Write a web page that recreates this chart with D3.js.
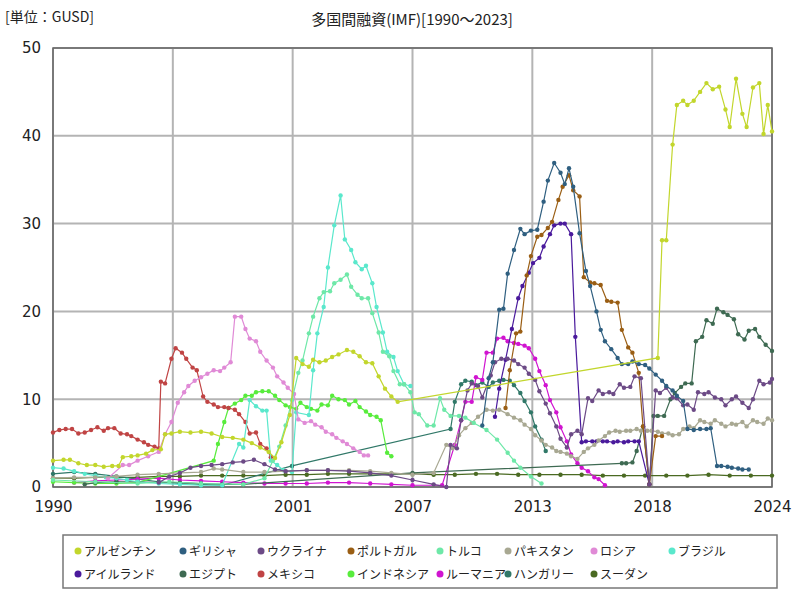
<!DOCTYPE html>
<html><head><meta charset="utf-8">
<script src="https://cdn.jsdelivr.net/npm/d3@7"></script>
<style>body{margin:0;background:#fff;font-family:"Noto Sans CJK JP","DejaVu Sans",sans-serif}</style>
</head><body><svg id="c" width="800" height="600"></svg>
<script>
const names=["アルゼンチン","ギリシャ","ウクライナ","ポルトガル","トルコ","パキスタン","ロシア","ブラジル","アイルランド","エジプト","メキシコ","インドネシア","ルーマニア","ハンガリー","スーダン"];
const colors=["#c2d62c","#2f5f80","#6c4a86","#9a5e14","#6ee8a8","#a8a892","#e08ad6","#5ae8cc","#4a1a9c","#3e6a52","#c04444","#58ec3c","#d014d0","#307868","#4a6a22"];
const xTickLabels=["1990","1996","2001","2007","2013","2018","2024"];
const yTicks=[0,10,20,30,40,50];
const argentina=[[1990,3.0],[1990.5,3.1],[1990.8,3.1],[1991.2,2.7],[1991.6,2.5],[1992,2.5],[1992.4,2.3],[1992.8,2.4],[1993.1,2.4],[1993.3,3.4],[1993.7,3.5],[1994,3.6],[1994.4,3.8],[1994.7,4.2],[1995.1,4.3],[1995.3,6.0],[1995.6,6.1],[1996,6.3],[1996.5,6.2],[1997,6.3],[1997.5,6.1],[1998,5.7],[1998.5,5.6],[1999,5.4],[1999.4,5.0],[1999.8,4.5],[2000.2,4.0],[2000.5,3.3],[2000.8,5.1],[2001.2,8.2],[2001.5,14.7],[2001.8,14.0],[2002.1,13.7],[2002.3,14.5],[2002.6,14.2],[2002.9,14.4],[2003.2,14.8],[2003.5,15.1],[2003.9,15.6],[2004.2,15.4],[2004.5,14.9],[2004.8,14.2],[2005.1,14.1],[2005.4,12.6],[2005.7,11.2],[2006.0,10.3],[2006.3,9.7],[2018.6,14.7],[2018.8,28.1],[2019.0,28.1],[2019.3,39.0],[2019.5,43.5],[2019.8,44.0],[2020.0,43.5],[2020.3,44.0],[2020.6,45.0],[2020.9,46.0],[2021.2,45.3],[2021.5,45.6],[2021.8,43.0],[2022.0,41.0],[2022.3,46.5],[2022.6,42.5],[2022.8,41.0],[2023.1,45.5],[2023.4,46.0],[2023.6,40.2],[2023.8,43.5],[2024,40.5]];
const greece=[[2010.3,7.0],[2010.6,12.4],[2010.8,14.2],[2011.1,20.2],[2011.3,20.3],[2011.5,24.3],[2011.8,27.0],[2012.1,29.4],[2012.3,28.8],[2012.6,29.2],[2012.9,29.3],[2013.2,32.5],[2013.4,34.9],[2013.7,36.9],[2014.0,35.8],[2014.2,34.5],[2014.4,36.3],[2014.6,34.2],[2014.9,28.9],[2015.2,24.6],[2015.4,22.9],[2015.7,20.0],[2015.9,17.9],[2016.1,16.6],[2016.4,15.7],[2016.7,14.7],[2016.9,14.0],[2017.2,14.0],[2017.4,14.3],[2017.7,14.0],[2018.0,13.9],[2018.2,13.5],[2018.5,12.8],[2018.8,12.1],[2019.0,11.5],[2019.3,11.0],[2019.5,10.4],[2019.8,9.8],[2020.0,6.6],[2020.3,6.5],[2020.6,6.6],[2020.9,6.6],[2021.1,6.7],[2021.4,2.4],[2021.6,2.4],[2021.9,2.3],[2022.1,2.2],[2022.4,2.1],[2022.6,2.0],[2022.9,2.0]];
const ukraine=[[1995,0.5],[1995.5,1.2],[1996,1.6],[1996.5,2.2],[1997,2.4],[1997.5,2.5],[1998,2.6],[1998.5,2.8],[1999,2.9],[1999.5,3.1],[2000,2.6],[2000.5,2.0],[2001,1.8],[2002,1.9],[2003,1.9],[2004,1.8],[2005,1.6],[2006,1.3],[2007,0.8],[2008,0.3],[2008.6,0.0],[2008.8,4.8],[2009.1,4.4],[2009.3,7.6],[2009.6,11.0],[2009.8,11.8],[2010.1,11.5],[2010.3,10.2],[2010.7,12.7],[2010.9,14.2],[2011.2,14.6],[2011.5,14.6],[2011.8,14.4],[2012.0,14.0],[2012.3,13.6],[2012.5,12.9],[2012.8,12.2],[2013.0,10.9],[2013.3,9.5],[2013.5,8.4],[2013.8,6.9],[2014.0,5.5],[2014.3,4.5],[2014.5,6.0],[2014.8,6.4],[2015.0,6.0],[2015.3,10.1],[2015.5,9.8],[2015.8,11.0],[2016.0,10.6],[2016.3,10.8],[2016.5,10.6],[2016.8,11.7],[2017.0,11.3],[2017.3,11.4],[2017.5,12.6],[2017.8,12.4],[2018.2,0.3],[2018.5,11.0],[2018.7,10.7],[2019.0,11.3],[2019.3,10.2],[2019.5,10.1],[2019.8,9.3],[2020.0,9.4],[2020.3,8.8],[2020.5,10.8],[2020.8,10.6],[2021.0,10.8],[2021.3,10.2],[2021.6,10.0],[2021.8,9.3],[2022.1,10.0],[2022.3,10.3],[2022.6,9.6],[2022.9,9.0],[2023.1,10.0],[2023.4,12.1],[2023.6,11.7],[2023.9,11.9],[2024,12.3]];
const portugal=[[2011.4,9.0],[2011.6,13.3],[2011.9,17.5],[2012.1,17.7],[2012.4,24.1],[2012.6,26.3],[2012.9,28.5],[2013.1,28.7],[2013.4,29.5],[2013.6,30.2],[2013.9,32.7],[2014.1,34.2],[2014.4,35.5],[2014.6,33.8],[2014.9,33.1],[2015.1,23.9],[2015.4,23.3],[2015.6,23.2],[2015.9,23.0],[2016.2,21.2],[2016.4,21.1],[2016.7,21.0],[2016.9,17.9],[2017.2,15.9],[2017.4,15.3],[2017.7,13.0],[2017.9,6.9],[2018.2,0.3],[2018.5,5.8],[2018.8,5.8]];
const turkey=[[1990,0.8],[1992,0.6],[1994,0.4],[1995.5,0.6],[1997,0.4],[1999,0.3],[2000,1.0],[2000.4,3.0],[2000.7,4.6],[2001.0,7.0],[2001.3,9.9],[2001.6,13.0],[2001.8,14.4],[2002.1,17.5],[2002.3,19.4],[2002.6,21.5],[2002.8,22.2],[2003.1,22.3],[2003.3,23.2],[2003.6,23.6],[2003.9,24.2],[2004.1,22.8],[2004.4,21.9],[2004.6,21.5],[2004.9,21.5],[2005.1,19.8],[2005.4,17.6],[2005.6,15.4],[2005.9,14.9],[2006.1,13.2],[2006.4,11.7],[2006.6,11.7],[2006.9,10.8],[2007.1,8.5],[2007.3,8.3],[2007.7,7.0],[2008.0,7.0],[2008.3,10.1],[2008.5,8.8],[2008.8,8.1],[2009.2,8.1],[2009.5,7.9],[2009.9,7.3],[2010.5,6.5],[2011.0,5.4],[2011.5,3.9],[2011.8,3.0],[2012.1,2.2],[2012.6,1.2],[2013.1,0.4]];
const pakistan=[[1990,1.0],[1991,1.1],[1992,1.1],[1993,1.2],[1994,1.4],[1995,1.5],[1996,1.6],[1997,1.7],[1997.6,2.1],[1998,2.0],[1999,1.7],[2000,1.7],[2001,1.8],[2002,1.9],[2003,1.9],[2004,1.9],[2005,1.8],[2006,1.6],[2007,1.4],[2008,1.6],[2008.6,4.8],[2008.9,4.4],[2009.2,5.9],[2009.5,6.7],[2009.8,7.3],[2010.1,8.0],[2010.5,8.8],[2010.8,8.7],[2011.1,8.8],[2011.5,8.3],[2011.8,7.9],[2012.1,7.6],[2012.3,7.1],[2012.6,6.6],[2012.8,5.9],[2013.1,5.3],[2013.3,4.8],[2013.6,4.5],[2013.8,4.1],[2014.0,4.0],[2014.3,3.8],[2014.5,3.5],[2014.8,3.2],[2015.1,4.0],[2015.3,4.4],[2015.6,4.8],[2015.8,5.3],[2016.1,5.8],[2016.3,6.2],[2016.6,6.4],[2016.8,6.3],[2017.1,6.4],[2017.3,6.4],[2017.6,6.6],[2017.8,6.4],[2018.1,6.4],[2018.3,6.4],[2018.6,6.3],[2018.8,6.1],[2019.1,6.1],[2019.3,5.9],[2019.6,6.0],[2019.8,6.6],[2020.1,6.9],[2020.3,6.7],[2020.6,7.6],[2020.8,7.4],[2021.1,7.2],[2021.3,7.6],[2021.6,7.2],[2021.8,6.9],[2022.1,7.2],[2022.3,7.1],[2022.6,7.4],[2022.8,6.9],[2023.1,7.6],[2023.3,7.4],[2023.6,7.2],[2023.8,7.8],[2024,7.6]];
const russia=[[1992.6,1.0],[1993.3,2.5],[1993.6,2.5],[1994.0,3.0],[1994.5,3.5],[1995.0,4.0],[1995.3,6.0],[1995.6,7.4],[1995.9,9.6],[1996.2,10.8],[1996.4,11.5],[1996.7,12.1],[1997.0,12.5],[1997.3,12.9],[1997.6,13.3],[1997.9,13.2],[1998.1,13.6],[1998.4,14.2],[1998.6,19.4],[1998.9,19.4],[1999.1,18.0],[1999.3,16.9],[1999.6,16.6],[1999.8,15.4],[2000.1,14.4],[2000.4,13.6],[2000.6,12.6],[2000.9,11.9],[2001.1,11.3],[2001.4,10.6],[2001.6,7.7],[2001.9,7.3],[2002.2,7.5],[2002.4,7.1],[2002.7,6.8],[2002.9,6.3],[2003.2,6.0],[2003.4,5.6],[2003.7,5.2],[2003.9,4.9],[2004.2,4.4],[2004.5,4.0],[2004.7,3.6],[2004.9,3.6]];
const brazil=[[1990,2.2],[1990.5,2.1],[1991,1.8],[1991.5,1.5],[1992,1.3],[1992.5,1.1],[1993,1.0],[1993.5,0.8],[1994,0.6],[1995,0.4],[1996,0.3],[1997,0.2],[1998,0.2],[1998.8,4.9],[1999.0,4.5],[1999.3,9.9],[1999.6,9.2],[1999.9,8.7],[2000.1,8.7],[2000.3,3.0],[2000.6,2.5],[2000.9,1.9],[2001.3,1.7],[2001.5,8.5],[2002.1,8.2],[2002.3,13.3],[2002.5,17.5],[2002.8,20.5],[2003.0,25.0],[2003.3,29.8],[2003.6,33.2],[2003.8,28.2],[2004.1,27.0],[2004.3,25.6],[2004.6,24.8],[2004.8,25.2],[2005.1,23.2],[2005.3,20.5],[2005.6,17.6],[2005.8,15.4],[2006.1,14.8],[2006.3,13.2],[2006.6,11.7],[2006.9,11.5]];
const ireland=[[2010.9,8.0],[2011.1,11.2],[2011.4,14.5],[2011.7,18.0],[2012.0,21.5],[2012.2,22.9],[2012.5,24.4],[2012.7,25.5],[2013.0,26.1],[2013.2,27.4],[2013.5,28.8],[2013.7,29.8],[2014.0,30.0],[2014.2,30.0],[2014.5,28.8],[2014.7,17.1],[2015.0,5.1],[2015.2,5.2],[2015.5,5.2],[2015.7,5.2],[2016.0,5.2],[2016.2,5.2],[2016.5,5.1],[2016.7,5.2],[2017.0,5.1],[2017.2,5.2],[2017.5,5.2],[2017.7,5.2],[2018.2,0.3]];
const egypt=[[1991.5,0.3],[1992,0.5],[1993,0.6],[1994,0.6],[1995,0.5],[1996,0.5],[1997,0.4],[1998,0.3],[1999,0.3],[2007,1.6],[2016.9,2.7],[2017.1,2.7],[2017.4,2.8],[2017.6,4.1],[2017.9,6.9],[2018.2,0.3],[2018.4,8.1],[2018.6,8.1],[2018.9,8.1],[2019.2,10.0],[2019.4,10.7],[2019.7,11.4],[2019.9,11.8],[2020.2,11.8],[2020.4,16.6],[2020.7,17.1],[2020.9,19.0],[2021.2,18.6],[2021.4,20.3],[2021.7,19.9],[2021.9,19.6],[2022.2,19.1],[2022.4,17.4],[2022.7,16.8],[2022.9,17.8],[2023.2,18.0],[2023.4,17.1],[2023.7,16.2],[2024,15.5]];
const mexico=[[1990,6.2],[1990.3,6.5],[1990.6,6.6],[1990.9,6.6],[1991.2,6.1],[1991.5,6.2],[1991.8,6.5],[1992.1,6.8],[1992.4,6.4],[1992.6,6.7],[1992.9,6.7],[1993.2,6.1],[1993.5,6.0],[1993.7,5.8],[1994.0,5.4],[1994.3,5.1],[1994.5,4.8],[1994.8,4.6],[1995.0,4.4],[1995.1,12.0],[1995.3,11.8],[1995.6,14.6],[1995.8,15.8],[1996.1,15.3],[1996.3,14.6],[1996.6,13.6],[1996.8,13.3],[1997.1,10.3],[1997.3,9.7],[1997.6,9.4],[1997.8,9.1],[1998.1,9.1],[1998.3,9.0],[1998.6,8.8],[1998.8,8.3],[1999.1,7.4],[1999.3,6.1],[1999.6,6.2],[1999.8,4.9],[2000.1,4.4],[2000.3,3.4]];
const indonesia=[[1990,0.6],[1991,0.5],[1992,0.4],[1993,0.4],[1994,0.5],[1997.6,3.0],[1997.8,4.9],[1998.1,7.4],[1998.3,9.0],[1998.6,9.5],[1998.9,9.9],[1999.1,10.4],[1999.4,10.4],[1999.6,10.8],[1999.9,10.9],[2000.2,10.9],[2000.5,10.4],[2000.7,9.9],[2001.0,9.3],[2001.2,9.1],[2001.5,8.9],[2001.7,9.6],[2002.0,9.1],[2002.2,8.9],[2002.5,8.7],[2002.7,9.4],[2003.0,9.3],[2003.2,10.4],[2003.5,10.0],[2003.8,9.9],[2004.0,9.4],[2004.3,9.8],[2004.5,9.1],[2004.8,8.6],[2005.0,8.2],[2005.3,8.0],[2005.5,7.6],[2005.8,3.9],[2006.0,3.5]];
const romania=[[1991,0.5],[1992,0.7],[1993,0.8],[1994,0.9],[1995,1.0],[1996,0.8],[1997,0.7],[1998,0.6],[1999,0.5],[2000,0.4],[2001,0.4],[2002,0.4],[2003,0.5],[2004,0.5],[2005,0.4],[2006,0.3],[2007,0.2],[2008.4,0.2],[2009.0,4.8],[2009.3,7.6],[2009.5,9.7],[2009.8,9.7],[2010.0,12.5],[2010.3,12.2],[2010.5,15.3],[2010.8,15.3],[2011.0,16.9],[2011.3,17.0],[2011.5,16.6],[2011.8,16.4],[2012.0,16.3],[2012.3,16.1],[2012.5,15.8],[2012.8,14.6],[2013.0,13.2],[2013.3,11.6],[2013.5,9.9],[2013.8,8.5],[2014.0,6.8],[2014.3,5.2],[2014.5,3.7],[2014.8,2.7],[2015.0,2.2],[2015.3,1.8],[2015.6,1.1],[2015.8,0.9],[2016.1,0.2]];
const hungary=[[1990,1.5],[1991,1.7],[1992,1.5],[1993,1.2],[1994,0.9],[1995,0.6],[1996,0.4],[1997,0.3],[1998,0.2],[2001.3,2.4],[2008.8,6.6],[2009.0,9.7],[2009.3,11.7],[2009.5,12.1],[2009.8,12.0],[2010.0,11.6],[2010.3,11.9],[2010.6,11.4],[2010.8,11.9],[2011.1,12.1],[2011.3,12.2],[2011.6,12.1],[2011.8,11.6],[2012.1,10.7],[2012.3,9.8],[2012.6,8.5],[2012.8,6.9],[2013.1,5.4],[2013.3,4.1]];
const sudan=[[1990,1.0],[1991,1.0],[1992,1.1],[1993,1.1],[1994,1.1],[1995,1.2],[1996,1.2],[1997,1.3],[1998,1.3],[1999,1.3],[2000,1.3],[2001,1.4],[2002,1.4],[2003,1.5],[2004,1.5],[2005,1.5],[2006,1.5],[2007,1.5],[2008,1.4],[2009,1.4],[2010,1.5],[2011,1.5],[2012,1.4],[2013,1.4],[2014,1.4],[2015,1.4],[2016,1.3],[2017,1.3],[2018,1.3],[2019,1.3],[2020,1.3],[2021,1.4],[2022,1.3],[2023,1.3],[2024,1.3]];
const series=[argentina,greece,ukraine,portugal,turkey,pakistan,russia,brazil,ireland,egypt,mexico,indonesia,romania,hungary,sudan];

const svg=d3.select("#c");
const L=53,R=772,T=48,B=487;
const x=d3.scaleLinear().domain([1990,2024]).range([L,R]);
const y=d3.scaleLinear().domain([0,50]).range([B,T]);
const tickPos=xTickLabels.map((d,i)=>1990+i*34/6);
svg.append("g").selectAll("line.v").data(tickPos).join("line").attr("x1",d=>x(d)).attr("x2",d=>x(d)).attr("y1",T).attr("y2",B).attr("stroke","#b4b4b4").attr("stroke-width",2);
svg.append("g").selectAll("line.h").data(yTicks).join("line").attr("y1",d=>y(d)).attr("y2",d=>y(d)).attr("x1",L).attr("x2",R).attr("stroke","#b4b4b4").attr("stroke-width",2);
svg.append("rect").attr("x",L).attr("y",T).attr("width",R-L).attr("height",B-T).attr("fill","none").attr("stroke","#666").attr("stroke-width",1.5);
const fy=svg.append("g").attr("transform",`translate(${L},0)`).call(d3.axisLeft(y).tickValues(yTicks).tickSize(0).tickPadding(12));
fy.select(".domain").remove();
fy.selectAll("text").attr("font-size",15).attr("fill","#222").attr("font-family","DejaVu Sans");
const fx=svg.append("g").attr("transform",`translate(0,${B})`).call(d3.axisBottom(x).tickValues(tickPos).tickFormat((d,i)=>xTickLabels[i]).tickSize(0).tickPadding(14));
fx.select(".domain").remove();
fx.selectAll("text").attr("font-size",15).attr("fill","#222").attr("font-family","DejaVu Sans");

const line=d3.line().x(d=>x(d[0])).y(d=>y(d[1]));
const order=[14,13,12,11,10,9,8,7,6,5,4,3,2,1,0];
order.forEach(i=>{
  const g=svg.append("g");
  g.append("path").attr("d",line(series[i])).attr("fill","none").attr("stroke",colors[i]).attr("stroke-width",1.2);
  g.selectAll("circle").data(series[i]).join("circle").attr("cx",d=>x(d[0])).attr("cy",d=>y(d[1])).attr("r",2.2).attr("fill",colors[i]);
});

svg.append("text").attr("x",412).attr("y",25).attr("text-anchor","middle").attr("font-size",15).attr("fill","#222").text("多国間融資(IMF)[1990～2023]");
svg.append("text").attr("x",5).attr("y",22).attr("font-size",14).attr("fill","#222").text("[単位：GUSD]");

svg.append("rect").attr("x",63).attr("y",535).attr("width",714).attr("height",53).attr("fill","#fff").attr("stroke","#777").attr("stroke-width",1.5);
const lx=[[72,177,255,345,434,502,588,666],[72,177,255,345,434,502,588]];
let k=0;
lx.forEach((row,r)=>row.forEach(px=>{
  const i=k++;const cy=551+r*23;
  svg.append("circle").attr("cx",px+6).attr("cy",cy).attr("r",3.5).attr("fill",colors[i]);
  svg.append("text").attr("x",px+12).attr("y",cy+4.5).attr("font-size",12).attr("fill","#222").text(names[i]);
}));
</script></body></html>
